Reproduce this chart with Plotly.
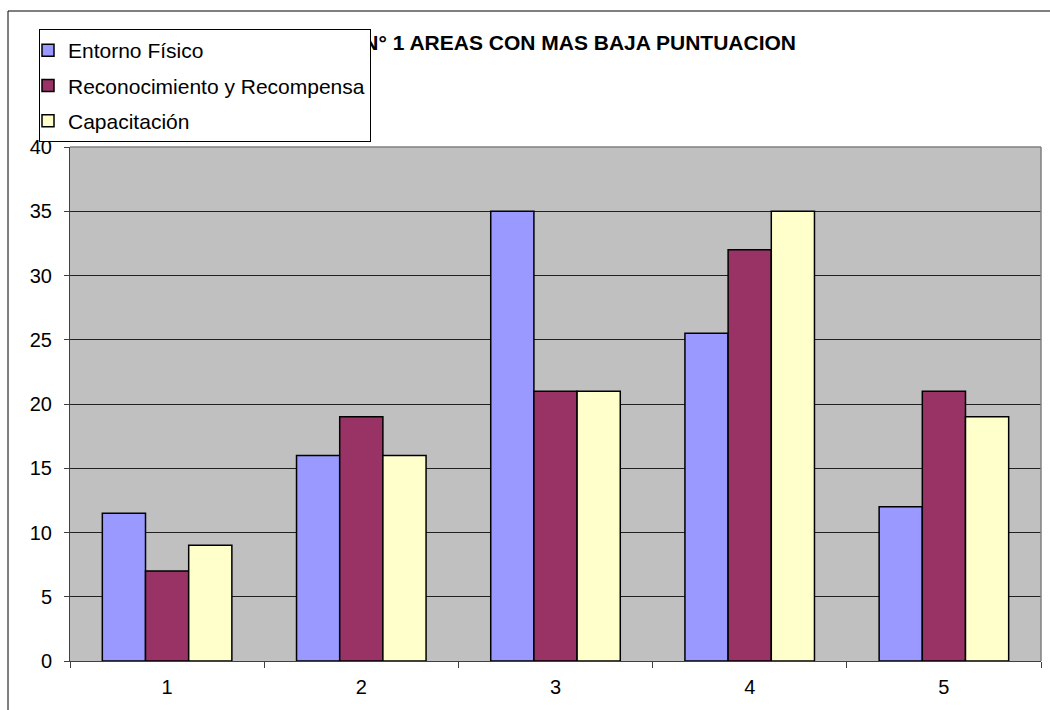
import plotly.graph_objects as go

categories = ["1", "2", "3", "4", "5"]
entorno = [11.5, 16, 35, 25.5, 12]
reconocimiento = [7, 19, 21, 32, 21]
capacitacion = [9, 16, 21, 35, 19]
series_names = ["Entorno Físico", "Reconocimiento y Recompensa", "Capacitación"]
colors = ["#9999FF", "#993366", "#FFFFCC"]
title_text = "GRAFICO N° 1 AREAS CON MAS BAJA PUNTUACION"

W, H = 1050, 710
L, R, T, B = 70, 9, 147, 49
FONT = "Arial, Liberation Sans, sans-serif"

fig = go.Figure()
for i, (name, vals, col) in enumerate(zip(series_names, [entorno, reconocimiento, capacitacion], colors)):
    fig.add_trace(go.Bar(
        x=categories, y=vals, name=name, legendgroup=str(i),
        marker=dict(color=col, line=dict(color="black", width=1.5)),
    ))

# Title drawn as a text trace on an invisible full-canvas axis pair (pixel units),
# so that the legend box sits on top of it as in the reference.
fig.add_trace(go.Scatter(
    x=[796], y=[45], xaxis="x2", yaxis="y2",
    mode="text", text=[title_text], textposition="middle left",
    textfont=dict(size=21, family=FONT, color="black", weight="bold"),
    cliponaxis=False, showlegend=False, hoverinfo="skip",
))

fig.update_layout(
    width=W, height=H,
    margin=dict(l=0, r=0, t=0, b=0, pad=0, autoexpand=False),
    paper_bgcolor="white",
    plot_bgcolor="rgba(0,0,0,0)",
    barmode="group",
    bargap=0.333,
    bargroupgap=0,
    font=dict(family=FONT, size=20, color="black"),
    showlegend=True,
    legend=dict(
        x=39 / W, y=1 - 29 / H, xanchor="left", yanchor="top",
        xref="paper", yref="paper",
        bgcolor="white", bordercolor="black", borderwidth=1,
        font=dict(size=21, family=FONT),
        traceorder="grouped", tracegroupgap=5,
        indentation=-12,
    ),
    xaxis=dict(
        domain=[L / W, 1 - R / W], anchor="y",
        type="category", showgrid=False, tickson="boundaries",
        ticks="outside", ticklen=6, tickcolor="#404040",
        showline=True, linecolor="#404040", linewidth=1,
        zeroline=False, tickfont=dict(size=20),
        ticklabelstandoff=8, automargin=False,
    ),
    yaxis=dict(
        domain=[B / H, 1 - T / H], anchor="x",
        range=[0, 40], dtick=5, tick0=0,
        showgrid=True, gridcolor="#202020", gridwidth=1,
        ticks="outside", ticklen=5, tickcolor="#404040",
        showline=True, linecolor="#404040", linewidth=1,
        zeroline=False, tickfont=dict(size=20),
        ticklabelstandoff=8, automargin=False,
    ),
    xaxis2=dict(domain=[0, 1], anchor="y2", range=[0, W], visible=False,
                fixedrange=True, automargin=False),
    yaxis2=dict(domain=[0, 1], anchor="x2", range=[H, 0], visible=False,
                fixedrange=True, automargin=False),
    shapes=[
        # gray plot-area fill, below the bars
        dict(type="rect", xref="x domain", yref="y domain", x0=0, x1=1, y0=0, y1=1,
             fillcolor="#C0C0C0", line=dict(width=0), layer="below"),
        # outer chart frame (runs off the right and bottom of the picture)
        dict(type="rect", xref="paper", yref="paper",
             x0=8 / W, x1=1.2, y0=-0.3, y1=1 - 11 / H,
             line=dict(color="black", width=1), fillcolor="rgba(0,0,0,0)", layer="below"),
        # gray top and right border of the plot area
        dict(type="line", xref="x domain", yref="y domain", x0=0, x1=1, y0=1, y1=1,
             line=dict(color="#808080", width=1.5)),
        dict(type="line", xref="x domain", yref="y domain", x0=1, x1=1, y0=0, y1=1,
             line=dict(color="#808080", width=1.5)),
    ],
)

fig.write_html("out.html")
